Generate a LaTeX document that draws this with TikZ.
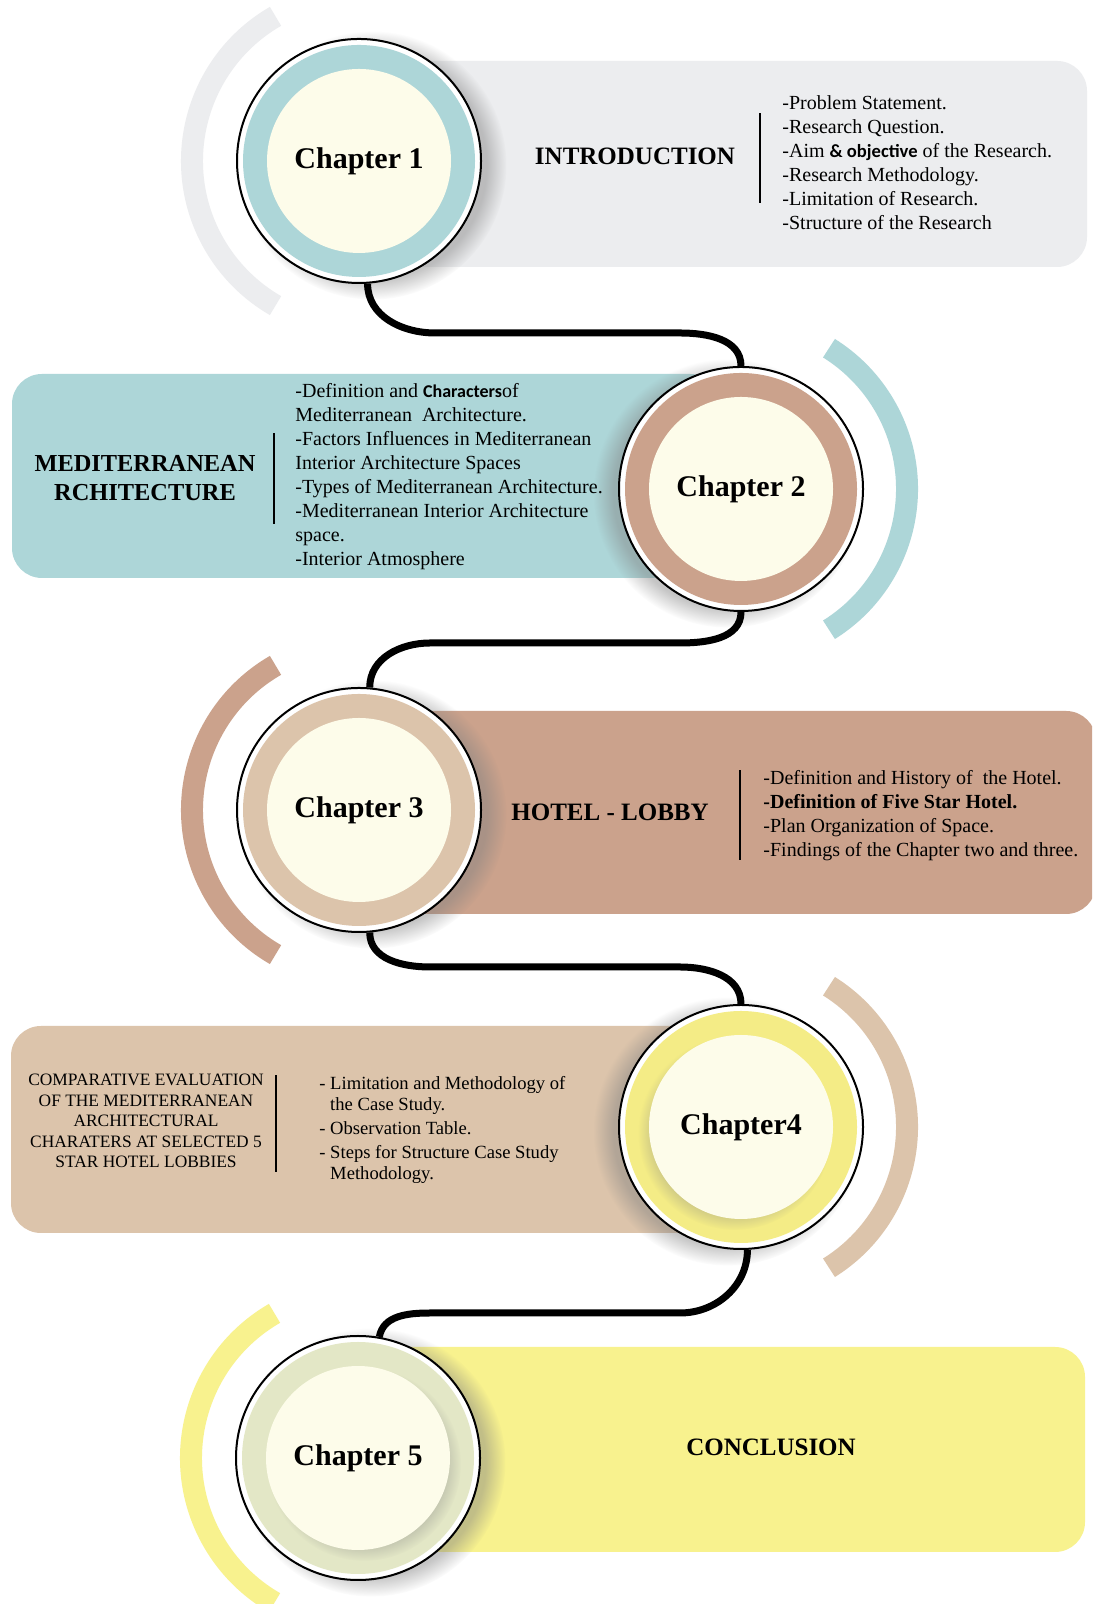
\documentclass[tikz,border=0pt]{standalone}
\usepackage{fontspec}
\setmainfont{Liberation Serif}
\newfontfamily\carlito{Carlito}
\usetikzlibrary{shadows,fadings}

\definecolor{greyband}{HTML}{ECEDEF}
\definecolor{tealband}{HTML}{ADD6D8}
\definecolor{roseband}{HTML}{CBA28C}
\definecolor{tanband}{HTML}{DCC4AB}
\definecolor{yellowband}{HTML}{F8F28E}
\definecolor{ringyellow}{HTML}{F4EC86}
\definecolor{ringolive}{HTML}{E3E7C6}
\definecolor{cream}{HTML}{FDFCEA}

\begin{document}
\begin{tikzpicture}[x=0.5pt,y=0.5pt,
		rim/.style={circle,draw,line width=1pt,fill=white,minimum size=122pt,inner sep=0pt,
			circular drop shadow={shadow xshift=#1,shadow yshift=-2pt,shadow scale=1.1,opacity=.45}},
		ring/.style={circle,fill=#1,minimum size=116pt,inner sep=0pt},
		core/.style={circle,fill=cream,minimum size=92pt,inner sep=0pt},
		deepcore/.style={core,circular drop shadow={shadow xshift=#1,shadow yshift=-3pt,shadow scale=1.05,opacity=.3}},
		chap/.style={font=\fontsize{15}{18}\selectfont\bfseries},
		head/.style={font=\fontsize{12.5}{15}\selectfont\bfseries,align=center},
		items/.style={font=\fontsize{10}{12}\selectfont,align=left,anchor=west,inner sep=0pt},
		panel/.style={fill=#1,rounded corners=15pt},
		band/.style={draw=#1,line width=11pt},
		divider/.style={line width=1pt},
		conn/.style={line width=3.5pt}]
	\useasboundingbox (0,0) rectangle (1092,1604);
	\clip (0,0) rectangle (1092,1604);
	\fill[white] (0,0) rectangle (1092,1604);

	\fill[panel=greyband] (380,1337) rectangle (1087,1543);
	\fill[panel=tealband] (12,1026) rectangle (720,1230);
	\fill[panel=roseband] (380,690) rectangle (1096,893);
	\fill[panel=tanband] (11,371) rectangle (720,578);
	\fill[panel=yellowband] (380,52) rectangle (1085,257);

	\node[rim=6pt] (c1) at (359,1443) {};
	\node[ring=tealband] (r1) at (c1) {};
	\node[core] (k1) at (c1) {};
	\node[chap] (t1) at (c1) {Chapter 1};

	\node[rim=-6pt] (c2) at (741,1115) {};
	\node[ring=roseband] (r2) at (c2) {};
	\node[core] (k2) at (c2) {};
	\node[chap] (t2) at (c2) {Chapter 2};

	\node[rim=6pt] (c3) at (359,794) {};
	\node[ring=tanband] (r3) at (c3) {};
	\node[core] (k3) at (c3) {};
	\node[chap] (t3) at (c3) {Chapter 3};

	\node[rim=-6pt] (c4) at (741,477) {};
	\node[ring=ringyellow] (r4) at (c4) {};
	\node[deepcore=-3pt] (k4) at (c4) {};
	\node[chap] (t4) at (c4) {Chapter4};

	\node[rim=6pt] (c5) at (358,146) {};
	\node[ring=ringolive] (r5) at (c5) {};
	\node[deepcore=3pt] (k5) at (c5) {};
	\node[chap] (t5) at (c5) {Chapter 5};

	\coordinate (a1) at (435,1271);
	\coordinate (b1) at (680,1271);
	\draw[conn] (c1.-86) to[out=-90,in=180] (a1) -- (b1) to[out=0,in=90] (c2.north);
	\coordinate (a2) at (680,961);
	\coordinate (b2) at (430,961);
	\draw[conn] (c2.south) to[out=-90,in=0] (a2) -- (b2) to[out=180,in=90] (c3.85);
	\coordinate (a3) at (430,637);
	\coordinate (b3) at (680,637);
	\draw[conn] (c3.-85) to[out=-90,in=180] (a3) -- (b3) to[out=0,in=90] (c4.north);
	\coordinate (a4) at (680,291);
	\coordinate (b4) at (430,291);
	\draw[conn] (c4.-87) to[out=-90,in=0] (a4) -- (b4) to[out=180,in=80] (c5.80);

	\draw[band=greyband] ([shift={(120:167)}]c1.center) arc[start angle=120,end angle=240,radius=167];
	\draw[band=tealband] ([shift={(-58:166)}]c2.center) arc[start angle=-58,end angle=58,radius=166];
	\draw[band=roseband] ([shift={(120:167)}]c3.center) arc[start angle=120,end angle=240,radius=167];
	\draw[band=tanband] ([shift={(-58:166)}]c4.center) arc[start angle=-58,end angle=58,radius=166];
	\draw[band=yellowband] ([shift={(120:167)}]c5.center) arc[start angle=120,end angle=240,radius=167];

	\node[head] (h1) at (635,1448) {INTRODUCTION};
	\draw[divider] (760,1401) -- (760,1491);
	\node[items] (l1) at (782,1441) {-Problem Statement.\\
		-Research Question.\\
		-Aim {\carlito\bfseries\fontsize{9.3}{12}\selectfont \& objective} of the Research.\\
		-Research Methodology.\\
		-Limitation of Research.\\
		-Structure of the Research};

	\node[head,font=\fontsize{12.2}{14.5}\selectfont\bfseries] (h2) at (145,1126) {MEDITERRANEAN\\RCHITECTURE};
	\draw[divider] (274,1080) -- (274,1171);
	\node[items] (l2) at (295,1127) {-Definition and {\carlito\bfseries\fontsize{9}{12}\selectfont Characters}of\\
		Mediterranean\ \ Architecture.\\
		-Factors Influences in Mediterranean\\
		Interior Architecture Spaces\\
		-Types of Mediterranean Architecture.\\
		-Mediterranean Interior Architecture\\
		space.\\
		-Interior Atmosphere};

	\node[head] (h3) at (610,792) {HOTEL - LOBBY};
	\draw[divider] (740,744) -- (740,834);
	\node[items] (l3) at (763,788) {-Definition and History of\ \ the Hotel.\\
		\textbf{-Definition of Five Star Hotel.}\\
		-Plan Organization of Space.\\
		-Findings of the Chapter two and three.};

	\node[align=center,font=\fontsize{8.7}{10.25}\selectfont] (h4) at (146,483) {COMPARATIVE EVALUATION\\OF THE MEDITERRANEAN\\ARCHITECTURAL\\CHARATERS AT SELECTED 5\\STAR HOTEL LOBBIES};
	\draw[divider] (276,432) -- (276,529);
	\node[items,font=\fontsize{9.3}{10.5}\selectfont] (l4) at (319,474) {- Limitation and Methodology of\\
		\hphantom{- }the Case Study.\\[1.5pt]
		- Observation Table.\\[1.5pt]
		- Steps for Structure Case Study\\
		\hphantom{- }Methodology.};

	\node[head] (h5) at (771,157) {CONCLUSION};
\end{tikzpicture}
\end{document}
